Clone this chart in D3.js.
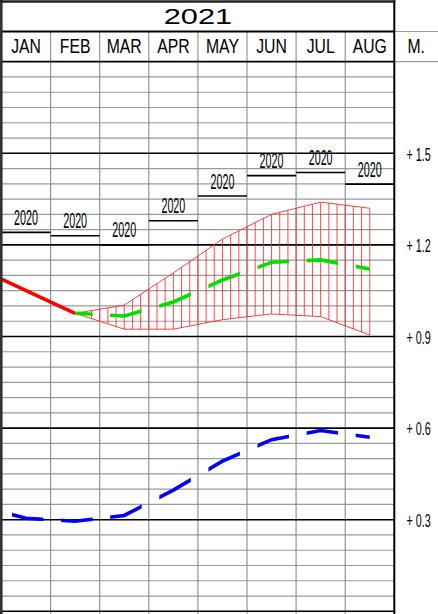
<!DOCTYPE html>
<html><head><meta charset="utf-8">
<script src="https://cdn.jsdelivr.net/npm/d3@7"></script>
<style>
html,body{margin:0;padding:0;background:#fff;}
svg{display:block;}
text{font-family:"Liberation Sans",Arial,sans-serif;fill:#000;}
</style></head>
<body>
<svg id="c" width="438" height="614"></svg>
<script>
// ---- data ----
const title = "2021";
const months = ["JAN","FEB","MAR","APR","MAY","JUN","JUL","AUG"];
const unitLabel = "M.";
const yTickValues = [0.3, 0.6, 0.9, 1.2, 1.5];
const yTickLabels = ["+ 0.3", "+ 0.6", "+ 0.9", "+ 1.2", "+ 1.5"];
const prevLabel = "2020";
const prevYear = [1.241, 1.230, 1.200, 1.279, 1.360, 1.427, 1.437, 1.399];
// actual (red): month index positions (-0.5 = left edge of JAN)
const actualPos = [-0.5, 0, 1];
const actualVals = [1.088, 1.050, 0.976];
// forecast (green) and band, FEB..AUG
const fcPos = [1, 2, 3, 4, 5, 6, 7];
const fcVals = [0.976, 0.967, 1.013, 1.085, 1.143, 1.151, 1.121];
const bandUpper = [0.976, 1.003, 1.108, 1.219, 1.300, 1.340, 1.320];
const bandLower = [0.976, 0.924, 0.924, 0.955, 0.974, 0.965, 0.905];
// blue series
const bluePos = [-0.5, 0, 1, 2, 3, 4, 5, 6, 7];
const blueVals = [0.325, 0.305, 0.295, 0.314, 0.397, 0.492, 0.562, 0.592, 0.570];

// ---- layout ----
const svg = d3.select("#c");
const x = d3.scaleLinear().domain([-0.5, 7.5]).range([1.5, 394.3]);
const y = d3.scaleLinear().domain([0, 1.8]).range([611.3, 61.7]);
const colW = x(1) - x(0);
const left = x(-0.5), right = x(7.5);
const titleTop = 1.5, titleBot = 31.5;

// minor grid
const minor = d3.range(0, 37).filter(i => i % 6 !== 0).map(i => i * 0.05);
svg.append("g").selectAll("line").data(minor).join("line")
  .attr("x1", left).attr("x2", right)
  .attr("y1", d => y(d)).attr("y2", d => y(d))
  .attr("stroke", "#9a9a9a").attr("stroke-width", 1.2);

// vertical column lines
svg.append("g").selectAll("line").data(d3.range(1, 8)).join("line")
  .attr("x1", d => x(d - 0.5)).attr("x2", d => x(d - 0.5))
  .attr("y1", titleBot).attr("y2", 614)
  .attr("stroke", "#8a8a8a").attr("stroke-width", 1.1);

// major lines
svg.append("g").selectAll("line").data(yTickValues.concat([0])).join("line")
  .attr("x1", left).attr("x2", right)
  .attr("y1", d => y(d)).attr("y2", d => y(d))
  .attr("stroke", "#000").attr("stroke-width", 1.6);

// right tick labels
svg.append("g").selectAll("text").data(yTickValues).join("text")
  .attr("transform", d => `translate(406.5,${y(d) + 7.2}) scale(0.58,1)`)
  .attr("font-size", 18.5)
  .text((d, i) => yTickLabels[i]);

// header
svg.append("text")
  .attr("transform", `translate(${(left + right) / 2},24) scale(1.4,1)`)
  .attr("text-anchor", "middle").attr("font-size", 22).text(title);
svg.append("g").selectAll("text").data(months).join("text")
  .attr("transform", (d, i) => `translate(${x(i)},53.3) scale(0.75,1)`)
  .attr("text-anchor", "middle").attr("font-size", 21).text(d => d);
svg.append("text")
  .attr("transform", `translate(${(right + 438) / 2},53.3) scale(0.75,1)`)
  .attr("text-anchor", "middle").attr("font-size", 21).text(unitLabel);

// header lines extending right (gray)
[titleBot, y(1.8)].forEach(yy => {
  svg.append("line").attr("x1", right).attr("x2", 438).attr("y1", yy).attr("y2", yy)
    .attr("stroke", "#9a9a9a").attr("stroke-width", 1.2);
  svg.append("line").attr("x1", 0).attr("x2", right).attr("y1", yy).attr("y2", yy)
    .attr("stroke", "#000").attr("stroke-width", 1.8);
});

// band hatch
const interp = (arr, p) => {
  const i = Math.min(Math.floor(p - 1), arr.length - 2);
  const t = p - 1 - i;
  return arr[i] + (arr[i + 1] - arr[i]) * t;
};
const hatchPos = d3.range(9, 46).map(k => -0.5 + k / 6);
svg.append("g").selectAll("line").data(hatchPos).join("line")
  .attr("x1", d => x(d)).attr("x2", d => x(d))
  .attr("y1", d => y(interp(bandUpper, d))).attr("y2", d => y(interp(bandLower, d)))
  .attr("stroke", "#ff2020").attr("stroke-width", 1).attr("opacity", 0.8);
const upperLine = d3.line().x((d, i) => x(fcPos[i])).y(d => y(d));
svg.append("path").attr("d", upperLine(bandUpper))
  .attr("fill", "none").attr("stroke", "#ff2020").attr("stroke-width", 1).attr("opacity", 0.85);
svg.append("path").attr("d", upperLine(bandLower))
  .attr("fill", "none").attr("stroke", "#ff2020").attr("stroke-width", 1).attr("opacity", 0.85);

// 2020 markers
const pg = svg.append("g");
pg.selectAll("line").data(prevYear).join("line")
  .attr("x1", (d, i) => x(i - 0.5)).attr("x2", (d, i) => x(i + 0.5))
  .attr("y1", d => y(d)).attr("y2", d => y(d))
  .attr("stroke", "#000").attr("stroke-width", 1.6);
pg.selectAll("text").data(prevYear).join("text")
  .attr("transform", (d, i) => `translate(${x(i)},${y(d) - 7.5}) scale(0.5,1)`)
  .attr("text-anchor", "middle").attr("font-size", 21.5).text(prevLabel);

// dash clip (per-column segments)
const defs = svg.append("defs");
const clip = defs.append("clipPath").attr("id", "dash");
clip.selectAll("rect").data(d3.range(0, 8)).join("rect")
  .attr("x", d => x(d - 0.5) + 10.5).attr("width", 31.5)
  .attr("y", 0).attr("height", 614);

// red actual
svg.append("path")
  .attr("d", d3.line().x((d, i) => x(actualPos[i])).y(d => y(d))(actualVals))
  .attr("fill", "none").attr("stroke", "#ff0000").attr("stroke-width", 3.5);

// green forecast (dashed)
svg.append("path")
  .attr("d", d3.line().x((d, i) => x(fcPos[i])).y(d => y(d))(fcVals))
  .attr("clip-path", "url(#dash)")
  .attr("fill", "none").attr("stroke", "#00e000").attr("stroke-width", 3.6);

// blue (dashed)
svg.append("path")
  .attr("d", d3.line().x((d, i) => x(bluePos[i])).y(d => y(d))(blueVals))
  .attr("clip-path", "url(#dash)")
  .attr("fill", "none").attr("stroke", "#0000ff").attr("stroke-width", 3.6);

// borders
svg.append("line").attr("x1", 1.3).attr("x2", 1.3).attr("y1", 0).attr("y2", 614)
  .attr("stroke", "#333").attr("stroke-width", 2.6);
svg.append("line").attr("x1", right).attr("x2", right).attr("y1", 0).attr("y2", 614)
  .attr("stroke", "#000").attr("stroke-width", 2);
svg.append("line").attr("x1", 0).attr("x2", right + 1).attr("y1", titleTop).attr("y2", titleTop)
  .attr("stroke", "#222").attr("stroke-width", 2.4);
</script>
</body></html>
